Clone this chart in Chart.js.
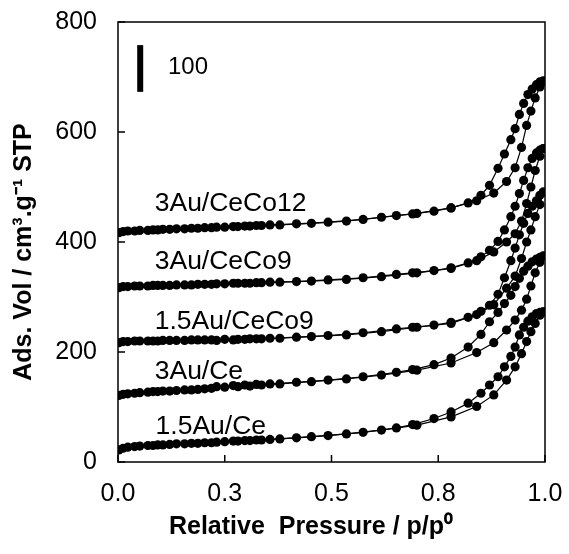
<!DOCTYPE html>
<html>
<head>
<meta charset="utf-8">
<script src="https://cdn.jsdelivr.net/npm/chart.js@4.4.1/dist/chart.umd.min.js"></script>
<style>
  html, body { margin: 0; padding: 0; background: #fff; }
</style>
</head>
<body>
<canvas id="isoChart" width="569" height="554"></canvas>
<script>
// relative pressure p/p0 of the adsorption and desorption points
const adsX = [0.002, 0.012, 0.023, 0.039, 0.051, 0.07, 0.082, 0.093, 0.105, 0.121, 0.137, 0.156, 0.172, 0.187, 0.203, 0.219, 0.25, 0.281, 0.309, 0.336, 0.379, 0.453, 0.535, 0.617, 0.70, 0.78, 0.84, 0.88, 0.91, 0.93, 0.945, 0.957, 0.967, 0.977, 0.988, 0.996];
const desX = [0.996, 0.988, 0.98, 0.97, 0.96, 0.95, 0.94, 0.93, 0.92, 0.905, 0.89, 0.87, 0.85, 0.82, 0.78, 0.74, 0.69, 0.652, 0.574, 0.492, 0.418, 0.356, 0.324, 0.297, 0.27, 0.231];

// adsorbed volume (offset curves)
const ads15Ce = [22, 25, 27, 28, 29, 30, 30, 31, 31, 32, 33, 33, 34, 34, 35, 35, 37, 38, 39, 40, 42, 46, 51, 58, 67, 82, 101, 122, 149, 173, 197, 219, 237, 252, 267, 273];
const des15Ce = [273, 272, 270, 264, 256, 245, 231, 209, 192, 173, 155, 140, 125, 107, 91, 79, 68, 62, 54, 48, 44, 41, 40, 39, 38, 36];

const ads3Ce = [121, 123, 124, 125, 126, 127, 128, 128, 129, 129, 130, 131, 131, 132, 133, 134, 136, 137, 138, 140, 142, 146, 151, 158, 167, 180, 199, 217, 240, 258, 276, 296, 320, 344, 363, 374];
const des3Ce = [375, 372, 369, 364, 356, 347, 334, 319, 303, 288, 272, 255, 232, 209, 189, 177, 168, 163, 155, 149, 145, 142, 141, 140, 139, 137];

const ads15CeCo9 = [217, 219, 219, 220, 220, 220, 220, 220, 221, 221, 221, 221, 222, 222, 222, 222, 223, 223, 224, 224, 225, 228, 231, 237, 245, 252, 268, 286, 316, 338, 370, 400, 422, 446, 468, 490];
const des15CeCo9 = [491, 485, 475, 465, 452, 434, 413, 389, 366, 335, 305, 285, 274, 263, 254, 249, 245, 242, 235, 230, 227, 225, 224, 223, 222, 221];

const ads3CeCo9 = [317, 319, 319, 320, 320, 320, 321, 321, 321, 321, 322, 322, 322, 323, 323, 323, 324, 325, 325, 326, 327, 329, 332, 337, 344, 352, 366, 382, 400, 415, 438, 470, 500, 530, 556, 570];
const des3CeCo9 = [570, 567, 562, 552, 535, 512, 488, 465, 446, 422, 401, 385, 373, 362, 353, 348, 344, 341, 335, 331, 328, 327, 326, 325, 325, 324];

const ads3CeCo12 = [417, 419, 420, 420, 421, 421, 422, 422, 423, 423, 424, 424, 425, 425, 426, 426, 427, 428, 429, 430, 431, 434, 438, 445, 452, 462, 475, 489, 510, 535, 572, 612, 638, 662, 682, 692];
const des3CeCo12 = [693, 691, 686, 678, 668, 652, 632, 606, 586, 560, 534, 503, 485, 471, 462, 456, 451, 448, 441, 436, 433, 431, 430, 429, 428, 427];

// sample names and where they are written (data units)
const sampleNames = ['3Au/CeCo12', '3Au/CeCo9', '1.5Au/CeCo9', '3Au/Ce', '1.5Au/Ce'];
const labelX = [0.086, 0.086, 0.086, 0.086, 0.088];
const labelY = [469, 364, 256, 164, 65];

// scale bar of 100 units
const barX = [0.052, 0.052];
const barY = [673, 758];
const barText = '100';
const barTextX = 0.117;
const barTextY = 717;

const xTicks = [0, 0.25, 0.5, 0.75, 1.0];
const yTicks = [0, 200, 400, 600, 800];

const FONT = "'Liberation Sans', Arial, sans-serif";

function pts(xs, ys) {
  return xs.map((x, i) => ({ x: x, y: ys[i] }));
}

function branch(xs, ys) {
  return {
    data: pts(xs, ys),
    showLine: true,
    borderColor: '#000',
    borderWidth: 1.2,
    backgroundColor: '#000',
    pointRadius: 4.6,
    pointBorderWidth: 0,
    pointBackgroundColor: '#000',
    tension: 0
  };
}

const datasets = [
  branch(adsX, ads15Ce), branch(desX, des15Ce),
  branch(adsX, ads3Ce), branch(desX, des3Ce),
  branch(adsX, ads15CeCo9), branch(desX, des15CeCo9),
  branch(adsX, ads3CeCo9), branch(desX, des3CeCo9),
  branch(adsX, ads3CeCo12), branch(desX, des3CeCo12),
  {
    data: pts(barX, barY),
    showLine: true,
    borderColor: '#000',
    borderWidth: 6,
    borderCapStyle: 'butt',
    pointRadius: 0
  }
];

// frame, inward ticks, tick labels, sample labels and axis titles
const decorPlugin = {
  id: 'decor',
  afterDatasetsDraw(chart) {
    const ctx = chart.ctx;
    const a = chart.chartArea;
    const xs = chart.scales.x, ys = chart.scales.y;
    ctx.save();
    ctx.strokeStyle = '#000';
    ctx.lineWidth = 1.5;
    ctx.strokeRect(a.left, a.top, a.right - a.left, a.bottom - a.top);
    ctx.beginPath();
    xTicks.forEach(v => {
      const px = xs.getPixelForValue(v);
      ctx.moveTo(px, a.bottom);
      ctx.lineTo(px, a.bottom - 7);
    });
    yTicks.forEach(v => {
      const py = ys.getPixelForValue(v);
      ctx.moveTo(a.left, py);
      ctx.lineTo(a.left + 7, py);
    });
    ctx.stroke();

    ctx.fillStyle = '#000';
    ctx.textBaseline = 'middle';
    ctx.font = '25px ' + FONT;
    ctx.textAlign = 'center';
    xTicks.forEach(v => {
      ctx.fillText(v.toFixed(1), xs.getPixelForValue(v), a.bottom + 32);
    });
    ctx.textAlign = 'right';
    yTicks.forEach(v => {
      ctx.fillText(String(v), a.left - 21, ys.getPixelForValue(v));
    });

    ctx.font = '26.5px ' + FONT;
    ctx.textAlign = 'left';
    sampleNames.forEach((name, i) => {
      ctx.fillText(name, xs.getPixelForValue(labelX[i]), ys.getPixelForValue(labelY[i]));
    });
    ctx.font = '24px ' + FONT;
    ctx.fillText(barText, xs.getPixelForValue(barTextX), ys.getPixelForValue(barTextY));

    // axis titles
    ctx.font = 'bold 25px ' + FONT;
    ctx.textAlign = 'center';
    ctx.fillText('Relative  Pressure / p/p\u2070', 311, 527);
    ctx.translate(24, 252);
    ctx.rotate(-Math.PI / 2);
    ctx.fillText('Ads. Vol / cm\u00b3.g\u207b\u00b9 STP', 0, 0);
    ctx.restore();
  }
};

new Chart(document.getElementById('isoChart'), {
  type: 'scatter',
  data: { datasets: datasets },
  options: {
    responsive: false,
    animation: false,
    layout: { padding: { top: 22, right: 24, left: 0, bottom: 0 } },
    plugins: {
      legend: { display: false },
      tooltip: { enabled: false }
    },
    scales: {
      x: {
        type: 'linear',
        min: 0,
        max: 1,
        afterBuildTicks: s => { s.ticks = xTicks.map(v => ({ value: v })); },
        afterFit: s => { s.height = 92; },
        grid: { display: false, drawTicks: false },
        border: { display: false },
        ticks: { display: false }
      },
      y: {
        type: 'linear',
        min: 0,
        max: 800,
        afterBuildTicks: s => { s.ticks = yTicks.map(v => ({ value: v })); },
        afterFit: s => { s.width = 118; },
        grid: { display: false, drawTicks: false },
        border: { display: false },
        ticks: { display: false }
      }
    }
  },
  plugins: [decorPlugin]
});
</script>
</body>
</html>
